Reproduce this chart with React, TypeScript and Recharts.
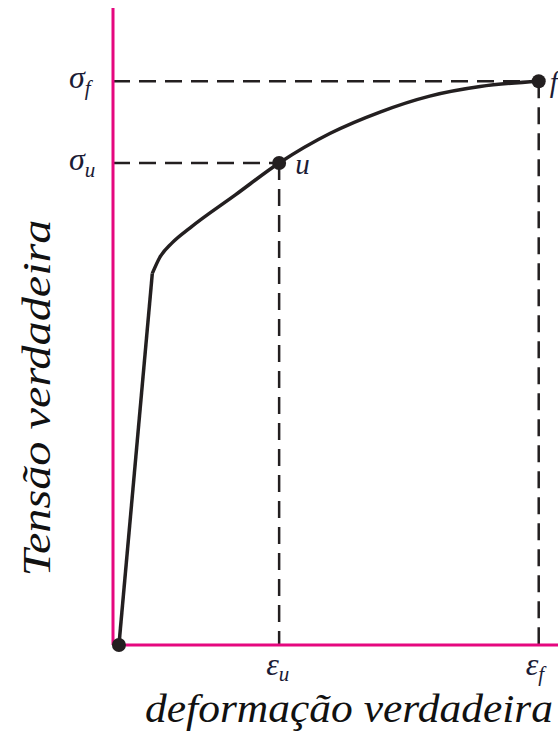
import React from "react";
import { LineChart, Line, XAxis, YAxis, ReferenceLine, Label } from "recharts";

// deformação verdadeira (x) / tensão verdadeira (y)
const strain = [0.008, 0.053, 0.063, 0.08, 0.104, 0.165, 0.224, 0.293, 0.36, 0.427, 0.495, 0.574];
const stress = [0, 350, 365, 379, 393, 424, 454, 482, 502, 517, 526, 531];
// which points get a marker and a letter
const marks = ["dot", "", "", "", "", "", "u", "", "", "", "", "f"];

const yTicks = [454, 531];
const yTickSubs = ["u", "f"];
const xTicks = [0.224, 0.574];
const xTickSubs = ["u", "f"];

const PINK = "#e5077f";
const INK = "#231f20";
const TXT = "#1b1b35";
const MATH = "'Liberation Serif', 'Times New Roman', serif";
const TITLE = "'Liberation Serif', serif";

const points = strain.map((s, i) => ({ strain: s, stress: stress[i], mark: marks[i] }));
const elastic = points.slice(0, 2);
const plastic = points.slice(1);

const MarkDot = (props: any) => {
  const { cx, cy, payload, index } = props;
  if (!payload.mark) return <g key={`d${index}`} />;
  return (
    <g key={`d${index}`}>
      <circle cx={cx} cy={cy} r={7} fill={INK} />
      {payload.mark !== "dot" && (
        <text x={cx + (payload.mark === "f" ? 11 : 16)} y={cy + 11} fontFamily={MATH} fontStyle="italic" fontSize={29} fill={TXT}>
          {payload.mark}
        </text>
      )}
    </g>
  );
};

const YTick = (props: any) => {
  const { y, payload } = props;
  const sub = yTickSubs[yTicks.indexOf(payload.value)];
  return (
    <text x={69} y={y + 7} fontFamily={MATH} fontStyle="italic" fontSize={32} fill={TXT}>
      σ<tspan fontSize={21} dy={7}>{sub}</tspan>
    </text>
  );
};

const XTick = (props: any) => {
  const { x, y, payload } = props;
  const sub = xTickSubs[xTicks.indexOf(payload.value)];
  return (
    <text x={x - 13} y={y + 22} fontFamily={MATH} fontStyle="italic" fontSize={32} fill={TXT}>
      ε<tspan fontSize={21} dy={6}>{sub}</tspan>
    </text>
  );
};

const dash = "17 9";

export default function App() {
  return (
    <div style={{ position: "absolute", left: 0, top: 0, background: "#fff" }}>
      <LineChart width={558} height={747} margin={{ top: 8, right: 0, bottom: 62, left: 63 }}>
        <XAxis
          type="number"
          dataKey="strain"
          domain={[0, 0.6]}
          ticks={xTicks}
          tick={<XTick />}
          tickLine={false}
          axisLine={{ stroke: PINK, strokeWidth: 3 }}
          height={40}
        >
          <Label
            content={() => (
              <text x={349} y={722} textAnchor="middle" fontFamily={TITLE} fontStyle="italic" fontSize={39}
                fill="#111" textLength={408} lengthAdjust="spacingAndGlyphs">
                deformação verdadeira
              </text>
            )}
          />
        </XAxis>
        <YAxis
          type="number"
          dataKey="stress"
          domain={[0, 600]}
          ticks={yTicks}
          tick={<YTick />}
          tickLine={false}
          axisLine={{ stroke: PINK, strokeWidth: 3 }}
          width={50}
        >
          <Label
            content={() => (
              <text x={50} y={398} transform="rotate(-90 50 398)" textAnchor="middle" fontFamily={TITLE}
                fontStyle="italic" fontSize={39} fill="#111" textLength={357} lengthAdjust="spacingAndGlyphs">
                Tensão verdadeira
              </text>
            )}
          />
        </YAxis>
        <ReferenceLine segment={[{ x: 0, y: stress[11] }, { x: strain[11], y: stress[11] }]} stroke={INK} strokeWidth={2.5} strokeDasharray={dash} />
        <ReferenceLine segment={[{ x: 0, y: stress[6] }, { x: strain[6], y: stress[6] }]} stroke={INK} strokeWidth={2.5} strokeDasharray={dash} />
        <ReferenceLine segment={[{ x: strain[6], y: stress[6] }, { x: strain[6], y: 0 }]} stroke={INK} strokeWidth={2.5} strokeDasharray={dash} />
        <ReferenceLine segment={[{ x: strain[11], y: stress[11] }, { x: strain[11], y: 0 }]} stroke={INK} strokeWidth={2.5} strokeDasharray={dash} />
        <Line data={elastic} dataKey="stress" type="linear" stroke={INK} strokeWidth={3.5} dot={<MarkDot />} activeDot={false} isAnimationActive={false} />
        <Line data={plastic} dataKey="stress" type="monotone" stroke={INK} strokeWidth={3.5} dot={<MarkDot />} activeDot={false} isAnimationActive={false} />
      </LineChart>
    </div>
  );
}
